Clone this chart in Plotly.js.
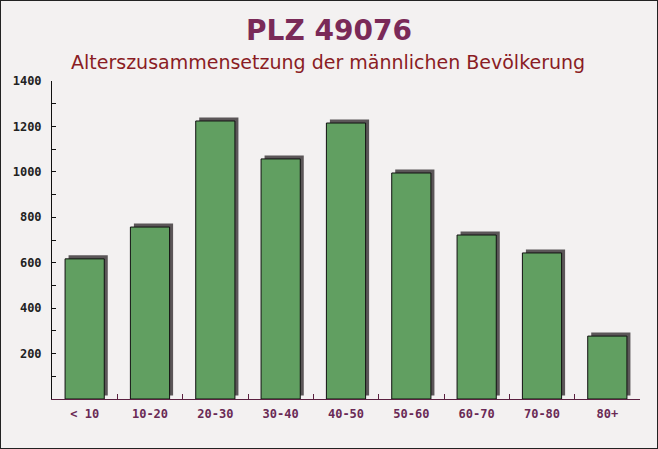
<!DOCTYPE html>
<html><head><meta charset="utf-8">
<script src="https://cdn.plot.ly/plotly-3.0.1.min.js"></script>
<style>
html,body{margin:0;padding:0;background:#f3f1f1;}
#wrap{width:656px;height:447px;border:1px solid #222;}
#chart{width:656px;height:447px;}
</style></head>
<body><div id="wrap"><div id="chart"></div></div>
<script>
const categories = ["< 10","10-20","20-30","30-40","40-50","50-60","60-70","70-80","80+"];
const values = [617, 757, 1224, 1057, 1215, 995, 722, 643, 277];
const yTickVals = [200,400,600,800,1000,1200,1400];
const titleText = "PLZ 49076";
const subtitleText = "Alterszusammensetzung der männlichen Bevölkerung";

const W = 656, mL = 51, mR = 17;
const plotW = W-mL-mR;
const plotH = 447-80-49, yMax = 1400;
const depthUnits = 3.5 * yMax / plotH;
const catPx = plotW/categories.length;
const dx = 3.5 / catPx;

const shadow = {
  type:'bar', x:categories, y:values, base:values.map(()=>depthUnits),
  width:0.6, offset:-0.3+dx, marker:{color:'#5b5658', line:{width:0}},
  hoverinfo:'skip', showlegend:false
};
const bars = {
  type:'bar', x:categories, y:values, width:0.6, offset:-0.3,
  marker:{color:'#619f61', line:{color:'#111', width:1}},
  showlegend:false
};
const layout = {
  width:W, height:447,
  margin:{l:mL, r:mR, t:80, b:49},
  paper_bgcolor:'#f3f1f1', plot_bgcolor:'rgba(0,0,0,0)',
  barmode:'overlay',
  title:{text:'<b>'+titleText+'</b>', x:0.5, xanchor:'center', y:1-29/447, yanchor:'middle',
    font:{family:'DejaVu Sans, Verdana, sans-serif', size:28, color:'#7a2a58'}},
  annotations:[{text:subtitleText, xref:'paper', yref:'paper', x:(W/2-1-mL)/plotW, y:1+(80-61)/plotH,
    xanchor:'center', yanchor:'middle', showarrow:false,
    font:{family:'DejaVu Sans, Verdana, sans-serif', size:19, color:'#8a1c24'}}],
  xaxis:{type:'category', showgrid:false, zeroline:false, showline:true, linecolor:'#5a2040', linewidth:1,
    ticks:'inside', ticklen:5, tickcolor:'#5a2040', tickson:'boundaries', ticklabelstandoff:4,
    tickfont:{family:'DejaVu Sans Mono, monospace', size:12, color:'#6a2a55', weight:'bold'},
    range:[-0.5, categories.length-0.5]},
  yaxis:{range:[0,yMax], tickvals:yTickVals, showgrid:false, zeroline:false, showline:true,
    linecolor:'#111', linewidth:1, ticks:'inside', ticklen:4, tickcolor:'#111', ticklabelstandoff:7,
    minor:{dtick:100, ticks:'inside', ticklen:4, tickcolor:'#111', showgrid:false},
    tickfont:{family:'DejaVu Sans Mono, monospace', size:12, color:'#222', weight:'bold'}}
};
Plotly.newPlot('chart',[shadow,bars],layout,{displayModeBar:false, staticPlot:true});
</script></body></html>
